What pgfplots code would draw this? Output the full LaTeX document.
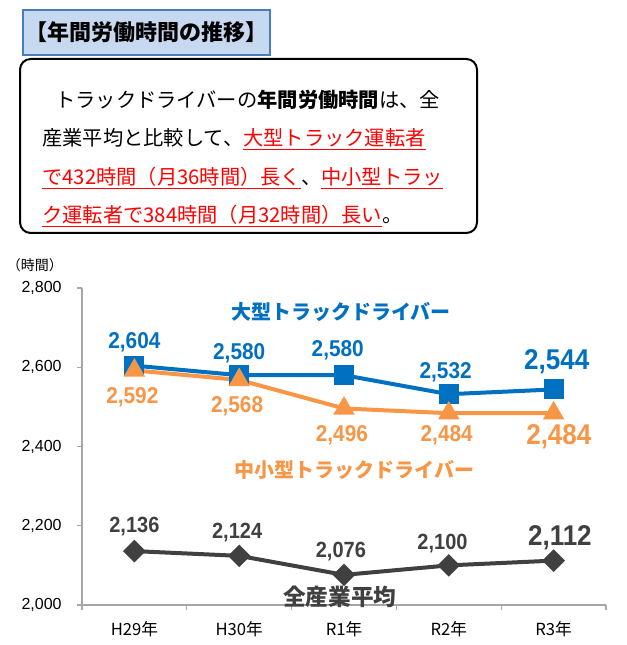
\documentclass[border=0pt]{standalone}
\usepackage{pgfplots}
\pgfplotsset{compat=1.18}
\usepackage{fontspec}
\setmainfont{Liberation Sans}
\newfontfamily\jp{Noto Sans CJK JP}
\definecolor{cblue}{HTML}{0070C0}
\definecolor{corange}{HTML}{F79646}
\definecolor{cgray}{HTML}{404040}
\definecolor{axgray}{HTML}{A6A6A6}
\definecolor{tfill}{HTML}{C6D9F1}
\definecolor{tbord}{HTML}{4A7EBB}
\definecolor{cred}{HTML}{FF0000}
\begin{document}
\begin{tikzpicture}[x=0.75pt,y=0.75pt]
\path[use as bounding box, fill=white] (0,0) rectangle (627,645);
% title box
\draw[draw=tbord, fill=tfill, line width=1.2pt] (23,590) rectangle (270,635);
\node[font=\jp\bfseries\fontsize{16.5}{17}\selectfont, inner sep=0] at (146.5,612.5) {【年間労働時間の推移】};
% text box
\draw[line width=1.5pt, rounded corners=8pt] (20,412) rectangle (477,586);
\begin{scope}[every node/.style={anchor=base west, inner sep=0, font=\jp\fontsize{15.2}{16}\selectfont}]
\node at (42,537.4) {\hspace*{9.75pt}トラックドライバーの\textbf{年間労働時間}は、全};
\node at (42,499.4) {産業平均と比較して、{\color{cred}\underline{大型トラック運転者}}};
\node at (42,460.4) {{\color{cred}\underline{で432時間（月36時間）長く}}、{\color{cred}\underline{中小型トラッ}}};
\node at (42,422.4) {{\color{cred}\underline{ク運転者で384時間（月32時間）長い}}。};
\end{scope}
\node[font=\jp\fontsize{10.5}{11}\selectfont, inner sep=0] at (35,380) {（時間）};
\begin{axis}[
  at={(61.5pt,30pt)}, anchor=south west, scale only axis,
  width=393pt, height=237.75pt,
  xmin=-0.5, xmax=4.5, ymin=2000, ymax=2800,
  axis x line=bottom, axis y line=left,
  axis line style={-, draw=axgray, line width=0.8pt},
  xtick={0,1,2,3,4},
  xticklabels={H29年,H30年,R1年,R2年,R3年},
  major x tick style={draw=none},
  minor xtick={-0.5,0.5,1.5,2.5,3.5,4.5},
  ytick={2000,2200,2400,2600,2800},
  tick align=outside,
  tick style={draw=axgray, line width=0.8pt},
  major tick length=3.75pt, minor tick length=3.75pt,
  /pgf/number format/assume math mode=true,
  /pgf/number format/1000 sep={,},
  yticklabel style={font=\fontsize{12}{12}\selectfont, xshift=-8pt},
  xticklabel style={font=\jp\fontsize{12.5}{13}\selectfont, yshift=-5pt},
  clip=false,
]
\addplot[cblue, line width=3pt, mark=square*, mark size=6pt, mark options={solid, fill=cblue}]
  coordinates {(0,2604) (1,2580) (2,2580) (3,2532) (4,2544)};
\addplot[corange, line width=3pt, mark=triangle*, mark size=6.3pt, mark options={solid, fill=corange}]
  coordinates {(0,2592) (1,2568) (2,2496) (3,2484) (4,2484)};
\addplot[cgray, line width=3pt, mark=square*, mark size=4.5pt, mark options={solid, fill=cgray, rotate=45}]
  coordinates {(0,2136) (1,2124) (2,2076) (3,2100) (4,2112)};
% data labels
\begin{scope}[every node/.style={font=\bfseries\fontsize{15.6}{16}\selectfont, text=cblue, inner sep=0, yscale=1.1}]
\node at (axis cs:0,2664) {2,604};
\node at (axis cs:1,2636) {2,580};
\node at (axis cs:1.94,2644) {2,580};
\node at (axis cs:2.97,2588) {2,532};
\node[font=\bfseries\fontsize{19.5}{20}\selectfont] at (axis cs:4.03,2613) {2,544};
\end{scope}
\begin{scope}[every node/.style={font=\bfseries\fontsize{15.6}{16}\selectfont, text=corange, inner sep=0, yscale=1.1}]
\node at (axis cs:-0.02,2525) {2,592};
\node at (axis cs:0.98,2502) {2,568};
\node at (axis cs:1.98,2429) {2,496};
\node at (axis cs:2.98,2429) {2,484};
\node[font=\bfseries\fontsize{19.5}{20}\selectfont] at (axis cs:4.05,2424) {2,484};
\end{scope}
\begin{scope}[every node/.style={font=\bfseries\fontsize{15}{16}\selectfont, text=cgray, inner sep=0, yscale=1.1}]
\node at (axis cs:0,2197) {2,136};
\node at (axis cs:0.98,2182) {2,124};
\node at (axis cs:1.97,2134) {2,076};
\node at (axis cs:2.94,2156) {2,100};
\node[font=\bfseries\fontsize{19.5}{20}\selectfont] at (axis cs:4.06,2169) {2,112};
\end{scope}
% series names
\node[font=\jp\bfseries\fontsize{15}{16}\selectfont, text=cblue, inner sep=0] at (axis cs:1.97,2739) {大型トラックドライバー};
\node[font=\jp\bfseries\fontsize{15}{16}\selectfont, text=corange, inner sep=0] at (axis cs:2.10,2341) {中小型トラックドライバー};
\node[font=\jp\bfseries\fontsize{17}{18}\selectfont, text=cgray, inner sep=0] at (axis cs:1.96,2020) {全産業平均};
\end{axis}
\end{tikzpicture}
\end{document}
